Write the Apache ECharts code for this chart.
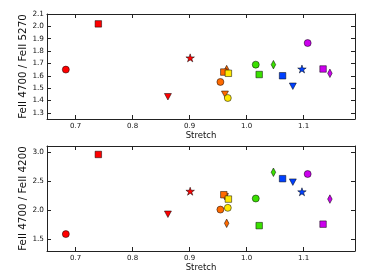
<!DOCTYPE html>
<html><head><meta charset="utf-8">
<script src="https://cdn.jsdelivr.net/npm/echarts@6/dist/echarts.min.js"></script>
<style>html,body{margin:0;padding:0;background:#fff}#c{width:374px;height:280px}</style>
</head><body><div id="c"></div>
<script>
// Data
const stretch   = [0.683, 0.740, 0.862, 0.901, 0.954, 0.965, 0.962, 0.960, 0.967, 0.968, 1.016, 1.022, 1.047, 1.063, 1.081, 1.097, 1.107, 1.134, 1.146];
const ratio5270 = [1.65, 2.02, 1.43, 1.745, 1.55, 1.65, 1.45, 1.63, 1.42, 1.62, 1.69, 1.61, 1.69, 1.60, 1.515, 1.655, 1.865, 1.655, 1.62];
const ratio4200 = [1.59, 2.955, 1.93, 2.325, 2.01, 1.775, 2.23, 2.265, 2.04, 2.19, 2.20, 1.735, 2.65, 2.54, 2.48, 2.315, 2.62, 1.76, 2.19];
const pointColor = ['red','red','red','red','orange','orange','orange','orange','yellow','yellow','green','green','green','blue','blue','blue','magenta','magenta','magenta'];
const pointShape = ['circle','square','tridown','star','circle','diamond','tridown','square','circle','square','circle','square','diamond','square','tridown','star','circle','square','diamond'];
const xTicks = [0.7, 0.8, 0.9, 1.0, 1.1];
const yTicksTop = [1.3, 1.4, 1.5, 1.6, 1.7, 1.8, 1.9, 2.0, 2.1];
const yTicksBottom = [1.5, 2.0, 2.5, 3.0];
const xLabel = 'Stretch';
const yLabelTop = 'FeII 4700 / FeII 5270';
const yLabelBottom = 'FeII 4700 / FeII 4200';

const palette = {red:'#ff0000', orange:'#ff6a00', yellow:'#ffe800', green:'#3ae000', blue:'#0040ff', magenta:'#cc00ee'};
const STAR = 'path://M50 0 L61.23 34.55 L97.55 34.55 L68.16 55.9 L79.39 90.45 L50 69.1 L20.61 90.45 L31.84 55.9 L2.45 34.55 L38.77 34.55 Z';
function shapeProps(s){
  switch(s){
    case 'circle': return {symbol:'circle', symbolSize:7};
    case 'square': return {symbol:'rect', symbolSize:6.5};
    case 'tridown': return {symbol:'triangle', symbolSize:[7,6.5], symbolRotate:180};
    case 'star': return {symbol:STAR, symbolSize:[8.5,8]};
    case 'diamond': return {symbol:'diamond', symbolSize:[4.5,8.5]};
  }
}
function makeData(ys){
  return stretch.map((x,i)=>Object.assign({
    value:[x, ys[i]],
    itemStyle:{color:palette[pointColor[i]], borderColor:'#000', borderWidth:0.5, opacity:1}
  }, shapeProps(pointShape[i])));
}
const FONT = 'DejaVu Sans';
const frame = {show:true, lineStyle:{color:'#222', width:1}};
function xAx(gi, pos, labels){
  return {type:'value', gridIndex:gi, position:pos, min:0.65, max:1.19,
    axisLine:Object.assign({onZero:false}, frame),
    axisTick:{show:true, inside:true, length:4, lineStyle:{color:'#222'}, customValues:xTicks},
    axisLabel:{show:labels, customValues:xTicks, fontFamily:FONT, fontSize:7, color:'#111', margin:4,
      formatter:v=>v.toFixed(1)},
    splitLine:{show:false},
    name: labels ? xLabel : '', nameLocation:'middle', nameGap:12, nameMoveOverlap:false,
    nameTextStyle:{fontFamily:FONT, fontSize:8.5, color:'#111', verticalAlign:'top'}};
}
function yAx(gi, pos, labels, min, max, ticks, name){
  return {type:'value', gridIndex:gi, position:pos, min:min, max:max,
    axisLine:Object.assign({onZero:false}, frame),
    axisTick:{show:true, inside:true, length:4, lineStyle:{color:'#222'}, customValues:ticks},
    axisLabel:{show:labels, customValues:ticks, fontFamily:FONT, fontSize:7.3, color:'#111', margin:3,
      formatter:v=>v.toFixed(1)},
    splitLine:{show:false},
    name: labels ? name : '', nameLocation:'middle', nameGap:19, nameRotate:90, nameMoveOverlap:false,
    nameTextStyle:{fontFamily:FONT, fontSize:10.3, color:'#111'}};
}
const chart = echarts.init(document.getElementById('c'), null, {renderer:'canvas'});
chart.setOption({
  animation:false,
  backgroundColor:'#fff',
  grid:[
    {left:47, right:19, top:14, height:105},
    {left:47, right:19, top:146, height:105}
  ],
  xAxis:[xAx(0,'bottom',true), xAx(0,'top',false), xAx(1,'bottom',true), xAx(1,'top',false)],
  yAxis:[
    yAx(0,'left',true,1.25,2.1,yTicksTop,yLabelTop), yAx(0,'right',false,1.25,2.1,yTicksTop,''),
    yAx(1,'left',true,1.3,3.1,yTicksBottom,yLabelBottom), yAx(1,'right',false,1.3,3.1,yTicksBottom,'')
  ],
  series:[
    {type:'scatter', xAxisIndex:0, yAxisIndex:0, data:makeData(ratio5270), silent:true},
    {type:'scatter', xAxisIndex:2, yAxisIndex:2, data:makeData(ratio4200), silent:true}
  ]
});
</script></body></html>
